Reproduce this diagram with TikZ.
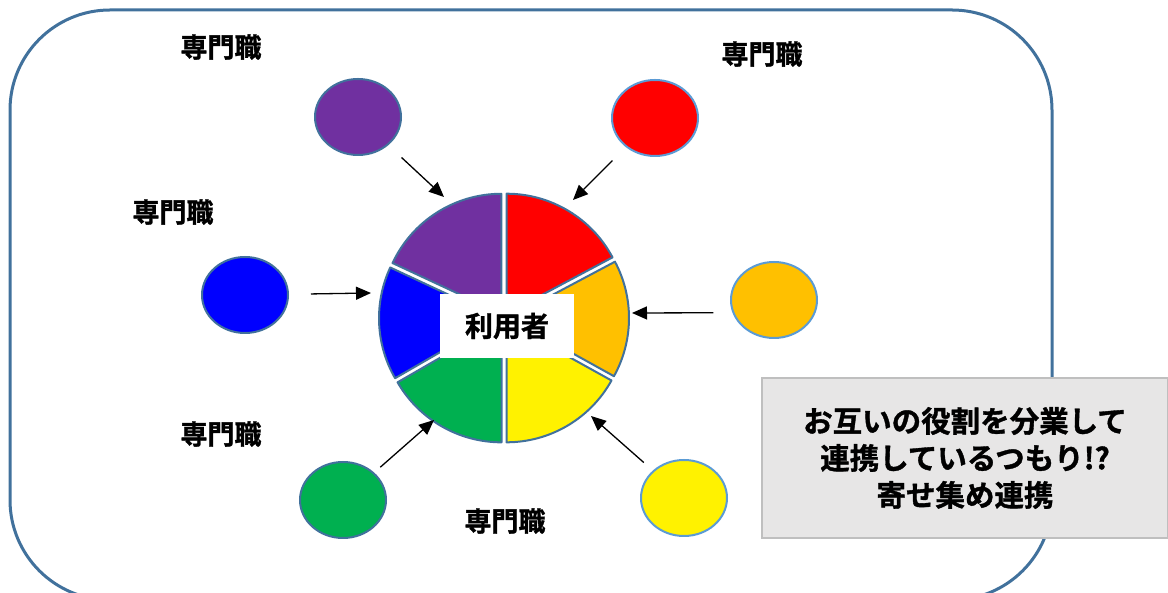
\documentclass[tikz,border=0pt]{standalone}
\usepackage{fontspec}
\setmainfont{Noto Sans CJK JP}[BoldFont={* Bold}, BoldFeatures={FakeBold=1.2}]
\usetikzlibrary{positioning}
\usetikzlibrary{arrows.meta}
\usetikzlibrary{calc}
\usetikzlibrary{shapes.geometric}

\definecolor{frameblue}{HTML}{41719C}
\definecolor{lightblue}{HTML}{5B9BD5}
\definecolor{ppurple}{HTML}{7030A0}
\definecolor{porange}{HTML}{FFC000}
\definecolor{pgreen}{HTML}{00B050}
\definecolor{notegray}{HTML}{E7E6E6}
\definecolor{noteline}{HTML}{BFBFBF}

\begin{document}
\begin{tikzpicture}[ x = 1pt, y = 1pt
                     , font = \bfseries
                     , >={Triangle[width=13pt, length=15pt]}
                     ]

  %%
  %% Styles
  %%
  \tikzset{ prof/.style={ellipse, draw=frameblue, line width=2pt,
                         minimum width=86pt, minimum height=76pt}
          , proflight/.style={prof, draw=lightblue}
          , role/.style={font=\fontsize{27}{30}\selectfont\bfseries}
          , wedge/.style={draw=frameblue, line width=2pt, line join=round}
          , link/.style={->, line width=1.3pt, shorten <=#1}
          }

  \useasboundingbox (0,0) rectangle (1168,593);

  % Frame
  \draw[frameblue, line width=3pt, rounded corners=100pt]
        (10,-7) rectangle (1052,583);

  %%
  %% Pie (user)
  %%
  \coordinate (ctr) at (504,275);
  \foreach \a/\b/\c in {28/90/red, -29/28/porange, -90/-29/yellow,
                        -150/-90/pgreen, -205/-150/blue, -270/-205/ppurple}
    \draw[wedge, fill=\c] ($(ctr)+({(\a+\b)/2}:5)$) -- +(\a:120)
          arc[start angle=\a, end angle=\b, radius=120] -- cycle;

  \node (user) [fill=white, minimum width=134pt, minimum height=64pt,
                font=\fontsize{28}{32}\selectfont\bfseries] at (507,267) {利用者};

  %%
  %% Nodes
  %%
  \node (purp) [prof, fill=ppurple] at (358,476) {};
  \node (redp) [proflight, fill=red] at (655,475) {};
  \node (blup) [prof, fill=blue] at (245,298) {};
  \node (oran) [proflight, fill=porange] at (774,293) {};
  \node (grnp) [prof, fill=pgreen] at (343,93) {};
  \node (yelp) [proflight, fill=yellow] at (684,95) {};

  \node (lpurp) [role] at (221,546) {専門職};
  \node (lredp) [role] at (762,539) {専門職};
  \node (lblup) [role] at (173,381) {専門職};
  \node (lgrnp) [role] at (221,159) {専門職};
  \node (lyelp) [role] at (505,72) {専門職};

  % Note
  \node (note) [fill=notegray, draw=noteline, line width=2pt,
                minimum width=406pt, minimum height=160pt, align=center,
                font=\fontsize{29.5}{37}\selectfont\bfseries] at (965,135)
        {お互いの役割を分業して\\連携しているつもり!?\\寄せ集め連携};

  %%
  %% Arrows
  %%
  \coordinate (tpurp) at (444,396);
  \coordinate (tredp) at (573,393);
  \coordinate (tblup) at (371,300);
  \coordinate (toran) at (632,280);
  \coordinate (tgrnp) at (434,173);
  \coordinate (tyelp) at (591,177);

  \draw[link=18pt] (purp) -- (tpurp);
  \draw[link=19pt] (redp) -- (tredp);
  \draw[link=22pt] (blup) -- (tblup);
  \draw[link=19pt] (oran.197) -- (toran);
  \draw[link=8pt] (grnp) -- (tgrnp);
  \draw[link=12pt] (yelp) -- (tyelp);
\end{tikzpicture}
\end{document}
